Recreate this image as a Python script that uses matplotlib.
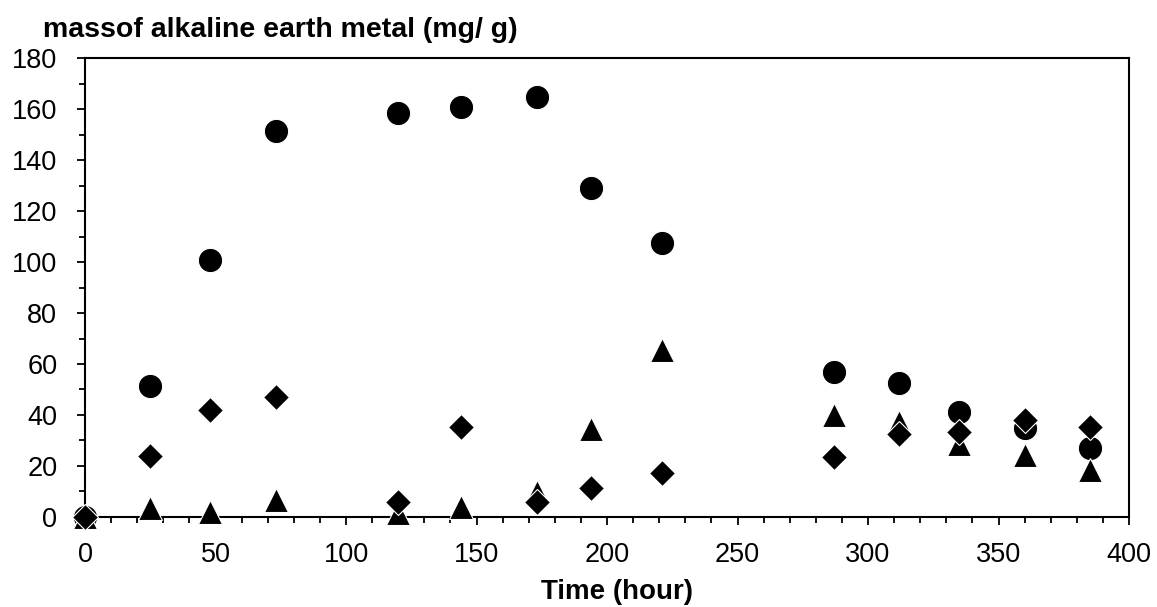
import numpy as np
import matplotlib.pyplot as plt
from matplotlib.ticker import MultipleLocator

plt.rcParams['font.family'] = ['Liberation Sans', 'DejaVu Sans']

# time points (hour)
hours = [0, 25, 48, 73, 120, 144, 173, 194, 221, 287, 312, 335, 360, 385]

# mass of alkaline earth metal (mg/g)
circles = [0, 51.5, 100.8, 151.4, 158.3, 160.7, 164.6, 128.9, 107.3, 57.0, 52.7, 41.0, 34.8, 26.9]
triangles = [0, 3.6, 2.1, 6.7, 1.5, 4.0, 9.9, 34.6, 65.6, 40.0, 37.4, 28.6, 24.2, 18.6]
diamonds = [0, 23.9, 42.0, 47.0, 6.0, 35.4, 5.7, 11.2, 17.1, 23.7, 32.4, 33.2, 38.0, 35.4]

fig = plt.figure(figsize=(11.57, 6.07), dpi=100)
ax = fig.add_axes([0.0735, 0.1483, 0.9023, 0.7561])

ax.plot(hours, circles, linestyle='none', marker='o', markersize=17.5,
        color='black', markeredgecolor='white', markeredgewidth=0.8, clip_on=False, zorder=3)
ax.plot(hours, triangles, linestyle='none', marker='^', markersize=17,
        color='black', markeredgecolor='white', markeredgewidth=0.8, clip_on=False, zorder=4)
ax.plot(hours, diamonds, linestyle='none', marker='D', markersize=13,
        color='black', markeredgecolor='white', markeredgewidth=0.8, clip_on=False, zorder=5)

ax.set_xlim(0, 400)
ax.set_ylim(0, 180)
ax.xaxis.set_major_locator(MultipleLocator(50))
ax.xaxis.set_minor_locator(MultipleLocator(10))
ax.yaxis.set_major_locator(MultipleLocator(20))
ax.yaxis.set_minor_locator(MultipleLocator(10))

for s in ax.spines.values():
    s.set_linewidth(1.5)
ax.tick_params(which='both', direction='out', width=1.3, labelsize=19.5)
ax.tick_params(axis='x', which='major', length=6, pad=12)
ax.tick_params(axis='x', which='minor', length=4.5)
ax.tick_params(axis='y', which='major', length=6, pad=14)
ax.tick_params(axis='y', which='minor', length=4.5)

ax.set_xlabel('Time (hour)', fontsize=20, fontweight='bold')
ax.xaxis.set_label_coords(0.51, -0.135)
fig.text(0.037, 0.951, 'massof alkaline earth metal (mg/ g)', fontsize=20.5,
         fontweight='bold', ha='left', va='center')

fig.savefig('out.png', dpi=100)
